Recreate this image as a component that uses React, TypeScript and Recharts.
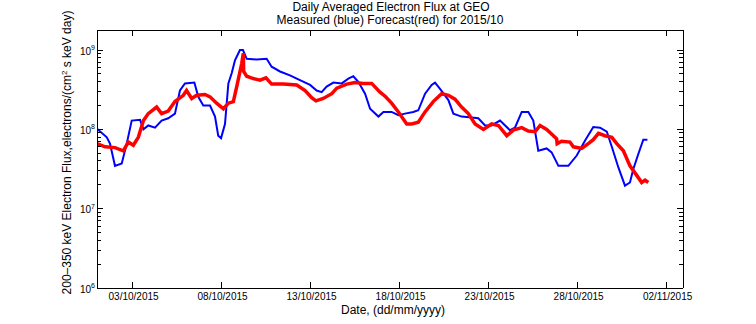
import { LineChart, Line, XAxis, YAxis } from "recharts";

// day offset from 01/10/2015 00:00, flux in electrons/(cm2 s keV day)
const measuredDays = [
  0, 0.55, 0.73, 1.01, 1.39, 1.67, 1.95, 2.42, 2.61, 2.88, 3.26, 3.63, 4.0, 4.38,
  4.66, 4.94, 5.47, 5.69, 5.97, 6.35, 6.63, 6.81, 6.97, 7.19, 7.38, 7.57, 7.75,
  8.03, 8.2, 8.41, 8.97, 9.53, 9.81, 10.28, 10.84, 11.4, 11.97, 12.34, 12.62,
  12.9, 13.28, 13.75, 14.12, 14.4, 14.68, 15.06, 15.34, 15.81, 16.09, 16.55,
  16.93, 17.3, 17.77, 18.05, 18.43, 18.8, 18.99, 19.27, 19.74, 20.02, 20.48,
  21.05, 21.42, 21.8, 22.17, 22.64, 23.2, 23.48, 23.86, 24.23, 24.51, 24.79,
  25.26, 25.54, 25.92, 26.48, 26.95, 27.42, 27.88, 28.26, 28.64, 28.92, 29.29,
  29.66, 29.94, 30.13, 30.41, 30.69, 30.92,
];
const measuredFlux = [
  1.02e8, 7.94e7, 6.61e7, 3.47e7, 3.72e7, 6.61e7, 1.29e8, 1.32e8, 1.0e8, 1.12e8,
  1.05e8, 1.29e8, 1.38e8, 1.58e8, 3.09e8, 3.8e8, 3.89e8, 2.57e8, 2.0e8, 2.0e8,
  1.45e8, 8.32e7, 7.76e7, 1.17e8, 3.8e8, 5.13e8, 7.41e8, 1.0e9, 1.0e9, 7.76e8,
  7.59e8, 7.76e8, 6.17e8, 5.37e8, 4.79e8, 4.17e8, 3.63e8, 3.09e8, 2.95e8, 3.47e8,
  3.89e8, 3.8e8, 4.37e8, 4.68e8, 3.98e8, 2.82e8, 1.82e8, 1.45e8, 1.66e8, 1.66e8,
  1.51e8, 1.58e8, 1.66e8, 1.74e8, 2.82e8, 3.63e8, 3.89e8, 3.24e8, 2.34e8, 1.58e8,
  1.45e8, 1.41e8, 1.38e8, 1.12e8, 1.12e8, 1.29e8, 9.77e7, 1.05e8, 1.66e8, 1.66e8,
  1.29e8, 5.37e7, 5.75e7, 5.13e7, 3.47e7, 3.47e7, 4.68e7, 7.24e7, 1.07e8, 1.05e8,
  9.33e7, 6.03e7, 3.31e7, 1.95e7, 2.14e7, 3.16e7, 4.9e7, 7.41e7, 7.41e7,
];

const forecastDays = [
  0, 0.45, 1.01, 1.48, 1.76, 2.04, 2.32, 2.61, 2.88, 3.35, 3.63, 4.0, 4.38, 4.85,
  5.03, 5.32, 5.6, 6.07, 6.35, 6.72, 7.1, 7.38, 7.66, 7.85, 8.13, 8.22, 8.24,
  8.41, 8.78, 9.16, 9.49, 9.81, 10.47, 11.22, 11.69, 12.06, 12.3, 12.71, 13.19,
  13.47, 14.03, 14.49, 14.96, 15.43, 15.9, 16.2, 16.55, 16.93, 17.4, 17.68, 18.05,
  18.43, 18.89, 19.36, 19.74, 20.11, 20.48, 20.86, 21.24, 21.71, 22.17, 22.55,
  23.02, 23.39, 23.86, 24.23, 24.61, 24.89, 25.26, 25.64, 25.82, 25.85, 26.1,
  26.57, 26.76, 27.23, 27.6, 27.88, 28.17, 28.54, 28.92, 29.2, 29.57, 29.94,
  30.32, 30.6, 30.79, 30.97,
];
const forecastFlux = [
  6.61e7, 6.03e7, 5.89e7, 5.37e7, 6.92e7, 6.31e7, 7.94e7, 1.29e8, 1.58e8, 1.91e8,
  1.58e8, 1.7e8, 2.24e8, 2.69e8, 3.09e8, 2.45e8, 2.69e8, 2.75e8, 2.57e8, 2.14e8,
  1.82e8, 2.14e8, 2.24e8, 3.47e8, 6.76e8, 9.12e8, 5.37e8, 4.68e8, 4.37e8, 4.17e8,
  4.47e8, 3.72e8, 3.72e8, 3.63e8, 3.09e8, 2.51e8, 2.29e8, 2.45e8, 2.82e8, 3.31e8,
  3.72e8, 3.89e8, 3.8e8, 3.8e8, 2.95e8, 2.6e8, 2.14e8, 1.66e8, 1.17e8, 1.17e8,
  1.23e8, 1.66e8, 2.24e8, 2.82e8, 2.69e8, 2.4e8, 1.91e8, 1.58e8, 1.17e8, 1.0e8,
  1.17e8, 1.12e8, 8.32e7, 9.77e7, 1.05e8, 9.55e7, 9.33e7, 1.12e8, 1.0e8, 8.32e7,
  7.59e7, 6.61e7, 7.08e7, 6.92e7, 6.03e7, 5.75e7, 6.61e7, 7.41e7, 8.91e7, 8.32e7,
  7.94e7, 6.61e7, 5.37e7, 3.47e7, 2.63e7, 2.14e7, 2.29e7, 2.14e7,
];

const xTicks = [2, 7, 12, 17, 22, 27, 32];
const xTickLabels = [
  "03/10/2015",
  "08/10/2015",
  "13/10/2015",
  "18/10/2015",
  "23/10/2015",
  "28/10/2015",
  "02/11/2015",
];
const yTicks = [
  1e6, 2e6, 3e6, 4e6, 5e6, 6e6, 7e6, 8e6, 9e6,
  1e7, 2e7, 3e7, 4e7, 5e7, 6e7, 7e7, 8e7, 9e7,
  1e8, 2e8, 3e8, 4e8, 5e8, 6e8, 7e8, 8e8, 9e8,
  1e9,
];

const measured = measuredDays.map((d, i) => ({ d, v: measuredFlux[i] }));
const forecast = forecastDays.map((d, i) => ({ d, v: forecastFlux[i] }));

const FONT = "'Liberation Sans', Arial, sans-serif";

const isDecade = (v: number) => {
  const l = Math.log10(v);
  return Math.abs(l - Math.round(l)) < 1e-9;
};

const BottomTick = ({ x, y, payload }: any) => (
  <g>
    <line x1={x} y1={y} x2={x} y2={y - 6} stroke="#000" shapeRendering="crispEdges" />
    <text x={x + 1} y={y + 11.5} textAnchor="middle" fontSize={10} fontFamily={FONT} fill="#000">
      {xTickLabels[xTicks.indexOf(payload.value)]}
    </text>
  </g>
);

const TopTick = ({ x, y }: any) => (
  <line x1={x} y1={y} x2={x} y2={y + 6} stroke="#000" shapeRendering="crispEdges" />
);

const LeftTick = ({ x, y, payload }: any) => {
  const v = payload.value;
  const major = isDecade(v);
  return (
    <g>
      <line x1={x} y1={y} x2={x + (major ? 6 : 4)} y2={y} stroke="#000" shapeRendering="crispEdges" />
      {major && (
        <text x={x - 2} y={y + 4.5} textAnchor="end" fontSize={10} fontFamily={FONT} fill="#000">
          10
          <tspan dy={-4.5} fontSize={7}>
            {Math.round(Math.log10(v))}
          </tspan>
        </text>
      )}
    </g>
  );
};

const RightTick = ({ x, y, payload }: any) => {
  const major = isDecade(payload.value);
  return (
    <line x1={x} y1={y} x2={x - (major ? 6 : 4)} y2={y} stroke="#000" shapeRendering="crispEdges" />
  );
};

const axisLine = { stroke: "#000", shapeRendering: "crispEdges" };
const xDomain = [0, 32.92];
const yDomain = [1e6, 1.79e9];

const App = () => {
  return (
    <div
      style={{
        position: "absolute",
        left: 0,
        top: 0,
        width: 756,
        height: 324,
        background: "#fff",
      }}
    >
      <LineChart
        width={756}
        height={324}
        margin={{ top: 20, right: 63, bottom: 6, left: 37 }}
      >
        <XAxis
          dataKey="d"
          type="number"
          domain={xDomain}
          ticks={xTicks}
          interval={0}
          allowDataOverflow
          height={30}
          tickSize={0}
          tickMargin={0}
          tickLine={false}
          axisLine={axisLine}
          tick={BottomTick}
        />
        <XAxis
          xAxisId="top"
          orientation="top"
          dataKey="d"
          type="number"
          domain={xDomain}
          ticks={xTicks}
          interval={0}
          allowDataOverflow
          height={10}
          tickSize={0}
          tickMargin={0}
          tickLine={false}
          axisLine={axisLine}
          tick={TopTick}
        />
        <YAxis
          type="number"
          scale="log"
          domain={yDomain}
          ticks={yTicks}
          interval={0}
          allowDataOverflow
          width={60}
          tickSize={0}
          tickMargin={0}
          tickLine={false}
          axisLine={axisLine}
          tick={LeftTick}
        />
        <YAxis
          yAxisId="right"
          orientation="right"
          type="number"
          scale="log"
          domain={yDomain}
          ticks={yTicks}
          interval={0}
          allowDataOverflow
          width={10}
          tickSize={0}
          tickMargin={0}
          tickLine={false}
          axisLine={axisLine}
          tick={RightTick}
        />
        <Line
          data={measured}
          dataKey="v"
          type="linear"
          stroke="#0000ff"
          strokeWidth={2}
          dot={false}
          isAnimationActive={false}
        />
        <Line
          data={forecast}
          dataKey="v"
          type="linear"
          stroke="#ff0000"
          strokeWidth={3.5}
          dot={false}
          isAnimationActive={false}
        />
      </LineChart>
      <svg
        width={756}
        height={324}
        style={{ position: "absolute", left: 0, top: 0, pointerEvents: "none" }}
        fontFamily={FONT}
        fill="#000"
      >
        <text x={391} y={11} textAnchor="middle" fontSize={12}>
          Daily Averaged Electron Flux at GEO
        </text>
        <text x={390} y={24} textAnchor="middle" fontSize={12}>
          Measured (blue) Forecast(red) for 2015/10
        </text>
        <text x={393} y={314} textAnchor="middle" fontSize={12}>
          Date, (dd/mm/yyyy)
        </text>
        <text
          x={71}
          y={152.5}
          textAnchor="middle"
          fontSize={12}
          transform="rotate(-90, 71, 152.5)"
        >
          200–350 keV Electron Flux,electrons/(cm
          <tspan dy={-4} fontSize={8}>
            2
          </tspan>
          <tspan dy={4}> s keV day)</tspan>
        </text>
      </svg>
    </div>
  );
};

export default App;
